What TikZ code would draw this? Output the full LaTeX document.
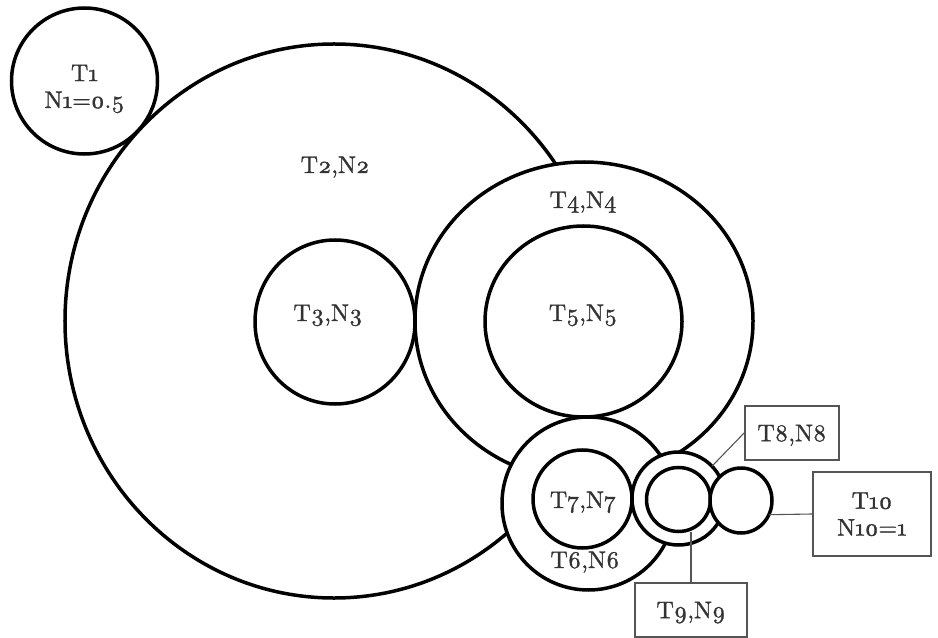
\documentclass[tikz,border=0pt]{standalone}
\usetikzlibrary{shapes.geometric}
\definecolor{ink}{HTML}{333333}
\definecolor{frame}{HTML}{555555}
% label face: Latin Modern, old-style figures, slightly emboldened
\font\lblf="[lmroman10-regular.otf]:+onum;embolden=1.2" at 24bp
\newcommand\lblfont{\fontsize{24}{27}\selectfont\lblf}
\begin{document}
\begin{tikzpicture}[x=1bp, y=-1bp,
  disc/.style 2 args={ellipse, draw=black, line width=3.5bp, fill=white,
    inner sep=0pt, outer sep=0pt, minimum width=#1bp, minimum height=#2bp},
  lbl/.style={font=\lblfont, text=ink, inner sep=0pt},
  tag/.style={draw=frame, line width=1.8bp, fill=white, text=ink,
    font=\lblfont, align=center, inner sep=0pt, text depth=0pt},
  lead/.style={draw=frame, line width=1.1bp}
]
\useasboundingbox (0,0) rectangle (938,638);
\fill[white] (0,0) rectangle (938,638);

% nested discs, each one painted over the ones before it
\node[disc={538}{554}] (t2) at (334,321) {};
\node[disc={146}{146}] (t1) at (84.5,81) {};
\node[disc={160}{164}] (t3) at (335,322) {};
\node[disc={338}{318}] (t4) at (584,321) {};
\node[disc={197}{191}] (t5) at (583.5,321.5) {};
\node[disc={173}{173}] (t6) at (588.5,503.5) {};
\node[disc={99}{98}]   (t7) at (582.5,499) {};
\node[disc={93}{93}]   (t8) at (678.5,498.5) {};
\node[disc={64}{64}]   (t9) at (678.5,499.5) {};
\node[disc={62}{65}]   (t10) at (741,500.5) {};

% labels inside the discs
\node[lbl, align=center] (t1lab) at (84.5,89) {T1\\N1=0.5};
\node[lbl, anchor=base] (t2lab) at (335,173) {T2,N2};
\node[lbl, anchor=base] (t3lab) at (328,321) {T3,N3};
\node[lbl, anchor=base] (t4lab) at (583,208) {T4,N4};
\node[lbl, anchor=base] (t5lab) at (583,321) {T5,N5};
\node[lbl, anchor=base] (t6lab) at (585,568) {T6,N6};
\node[lbl, anchor=base] (t7lab) at (583,508) {T7,N7};

% callout boxes for the small discs
\node[tag, minimum width=94bp, minimum height=54bp] (t8tag) at (792,433) {T8,N8};
\node[tag, minimum width=118bp, minimum height=84bp] (t10tag) at (872,514) {T10\\N10=1};
\node[tag, minimum width=112bp, minimum height=54bp] (t9tag) at (691,610) {T9,N9};

\draw[lead] (t8.44) -- (t8tag.west);
\draw[lead] (t10.-27) -- (t10tag.west);
\draw[lead] (t9tag.north |- t9.south) -- (t9tag.north);
\end{tikzpicture}
\end{document}
